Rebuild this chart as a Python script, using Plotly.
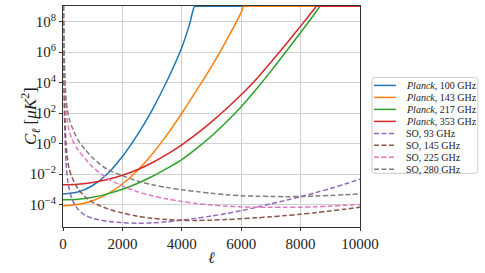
import plotly.graph_objects as go

# ---------------- data: log10 of C_ell [muK^2] ----------------
planck_100_ell = [0, 500, 1000, 1500, 2000, 2500, 3000, 3500, 4000, 4250, 4430, 4480, 4630, 10000]
planck_100_log = [-3.31, -3.18, -2.75, -1.98, -0.85, 0.55, 2.2, 4.1, 6.3, 7.75, 9.0, 9.0, 9.0, 9.0]

planck_143_ell = [0, 500, 1000, 1500, 2000, 2500, 3000, 3500, 4000, 4500, 5000, 5500, 6000,
                  6075, 6125, 6275, 10000]
planck_143_log = [-4.08, -4.0, -3.75, -3.3, -2.65, -1.78, -0.7, 0.57, 1.99, 3.5, 5.05, 6.75, 8.6,
                  9.0, 9.0, 9.0, 9.0]

planck_217_ell = [0, 500, 1000, 1500, 2000, 2500, 3000, 3500, 4000, 4500, 5000, 5500, 6000, 6500,
                  7000, 7500, 8000, 8500, 8660, 8710, 8860, 10000]
planck_217_log = [-3.69, -3.65, -3.52, -3.30, -3.00, -2.62, -2.16, -1.63, -1.05, -0.32, 0.5, 1.42, 2.42,
                  3.55, 4.75, 6.0, 7.28, 8.58, 9.0, 9.0, 9.0, 9.0]

planck_353_ell = [0, 500, 1000, 1500, 2000, 2500, 3000, 3500, 4000, 4500, 5000, 5500, 6000, 6500,
                  7000, 7500, 8000, 8500, 8530, 8580, 8730, 10000]
planck_353_log = [-2.70, -2.66, -2.55, -2.36, -2.08, -1.72, -1.26, -0.71, -0.08, 0.63, 1.42, 2.28, 3.2,
                  4.2, 5.33, 6.5, 7.7, 8.92, 9.0, 9.0, 9.0, 9.0]

so_ell = [2, 30, 60, 100, 150, 200, 300, 500, 750, 1000, 1500, 2000, 2500, 3000, 3500, 4000,
          4500, 5000, 5500, 6000, 6500, 7000, 7500, 8000, 8500, 9000, 9500, 10000]
so_93_log = [12, 4.5, 1.0, -1.2, -2.3, -2.9, -3.6, -4.3, -4.7, -4.9, -5.1, -5.18, -5.22, -5.2,
             -5.13, -5.02, -4.9, -4.75, -4.58, -4.4, -4.18, -3.95, -3.72, -3.48, -3.22, -2.95, -2.65, -2.33]
so_145_log = [12, 5.5, 2.0, 0.0, -1.0, -1.6, -2.2, -2.95, -3.5, -3.85, -4.28, -4.55, -4.76, -4.9,
              -4.98, -5.03, -5.04, -5.02, -4.98, -4.93, -4.87, -4.8, -4.72, -4.63, -4.53, -4.42, -4.3, -4.17]
so_225_log = [12, 6.5, 4.0, 2.3, 1.4, 0.9, 0.3, -0.4, -1.0, -1.55, -2.3, -2.78, -3.15, -3.42,
              -3.63, -3.8, -3.93, -4.03, -4.1, -4.15, -4.17, -4.18, -4.18, -4.17, -4.14, -4.1, -4.05, -4.0]
so_280_log = [12, 7.0, 4.6, 3.0, 2.2, 1.7, 1.1, 0.25, -0.4, -0.95, -1.7, -2.1, -2.45, -2.7,
              -2.88, -3.03, -3.15, -3.26, -3.35, -3.42, -3.45, -3.47, -3.48, -3.47, -3.44, -3.4, -3.35, -3.3]

series_names = ["<i>Planck</i>, 100 GHz", "<i>Planck</i>, 143 GHz", "<i>Planck</i>, 217 GHz",
                "<i>Planck</i>, 353 GHz", "SO, 93 GHz", "SO, 145 GHz", "SO, 225 GHz", "SO, 280 GHz"]
series_ell = [planck_100_ell, planck_143_ell, planck_217_ell, planck_353_ell, so_ell, so_ell, so_ell, so_ell]
series_log = [planck_100_log, planck_143_log, planck_217_log, planck_353_log,
              so_93_log, so_145_log, so_225_log, so_280_log]
series_colors = ["#1f77b4", "#ff7f0e", "#2ca02c", "#d62728", "#9467bd", "#8c564b", "#e377c2", "#7f7f7f"]
series_dash = ["solid"] * 4 + ["5px,2.5px"] * 4

x_ticks = [0, 2000, 4000, 6000, 8000, 10000]
y_tick_exp = [-4, -2, 0, 2, 4, 6, 8]

# ---------------- figure ----------------
W, H = 485, 273
L, R, T, B = 62.5, 125, 5.5, 46.3
FONT = "Liberation Serif, DejaVu Serif, serif"

fig = go.Figure()
for name, ell, lg, col, dash in zip(series_names, series_ell, series_log, series_colors, series_dash):
    fig.add_trace(go.Scatter(
        x=ell, y=[10 ** v for v in lg], mode="lines", name=name,
        line=dict(color=col, width=1.5, dash=dash, shape="spline", smoothing=0.8),
        showlegend=False, hoverinfo="skip"))

fig.update_layout(
    width=W, height=H, margin=dict(l=L, r=R, t=T, b=B),
    plot_bgcolor="white", paper_bgcolor="white",
    font=dict(family=FONT, color="#222"),
)
fig.update_xaxes(
    range=[0, 10000], tickvals=x_ticks, ticktext=[str(v) for v in x_ticks],
    showgrid=True, gridcolor="#d0d0d0", gridwidth=1, zeroline=False,
    showline=True, mirror=True, linecolor="#333", linewidth=1,
    ticks="outside", ticklen=3, tickcolor="#333", tickfont=dict(size=15, family=FONT),
)
fig.update_yaxes(
    type="log", range=[-5.47, 9.02],
    tickvals=[10.0 ** e for e in y_tick_exp],
    ticktext=["10<sup>%s</sup>" % (str(e).replace("-", "\u2212")) for e in y_tick_exp],
    showgrid=True, gridcolor="#d0d0d0", gridwidth=1, zeroline=False,
    showline=True, mirror=True, linecolor="#333", linewidth=1,
    ticks="outside", ticklen=3, tickcolor="#333", tickfont=dict(size=15, family=FONT),
)

PW, PH = W - L - R, H - T - B
def px(xp):
    return (xp - L) / PW
def py(yp):
    return (H - B - yp) / PH

# axis titles
fig.add_annotation(x=px(211), y=py(257), xref="paper", yref="paper", text="<i>ℓ</i>",
                   showarrow=False, xanchor="center", yanchor="middle",
                   font=dict(size=16, family=FONT, color="#222"))
fig.add_annotation(x=px(30), y=py(116), xref="paper", yref="paper",
                   text="<i>C</i><sub><i>ℓ</i></sub> [<i>μK</i><sup>2</sup>]",
                   showarrow=False, xanchor="center", yanchor="middle", textangle=-90,
                   font=dict(size=17, family=FONT, color="#222"))

# ---------------- legend (drawn manually to match compact spacing) ----------------
bx0, bx1, by0, by1 = 372, 478, 77, 173
r = 3
rx, ry = r / PW, r / PH
x0, x1, y0, y1 = px(bx0), px(bx1), py(by1), py(by0)
path = (f"M {x0+rx},{y0} L {x1-rx},{y0} Q {x1},{y0} {x1},{y0+ry} L {x1},{y1-ry} "
        f"Q {x1},{y1} {x1-rx},{y1} L {x0+rx},{y1} Q {x0},{y1} {x0},{y1-ry} "
        f"L {x0},{y0+ry} Q {x0},{y0} {x0+rx},{y0} Z")
fig.add_shape(type="path", path=path, xref="paper", yref="paper",
              line=dict(color="#cccccc", width=1), fillcolor="white", layer="above")

for i, (name, col, dash) in enumerate(zip(series_names, series_colors, series_dash)):
    yc = 85 + 12 * i
    fig.add_shape(type="line", xref="paper", yref="paper",
                  x0=px(374), x1=px(396), y0=py(yc), y1=py(yc),
                  line=dict(color=col, width=1.5, dash=dash), layer="above")
    fig.add_annotation(x=px(404), y=py(yc), xref="paper", yref="paper", text=name,
                       showarrow=False, xanchor="left", yanchor="middle",
                       font=dict(size=10, family=FONT, color="#222"))

fig.write_html(
    "out.html",
    config={"displayModeBar": False},
    post_script="document.body.style.margin='0';document.body.style.overflow='hidden';",
)
